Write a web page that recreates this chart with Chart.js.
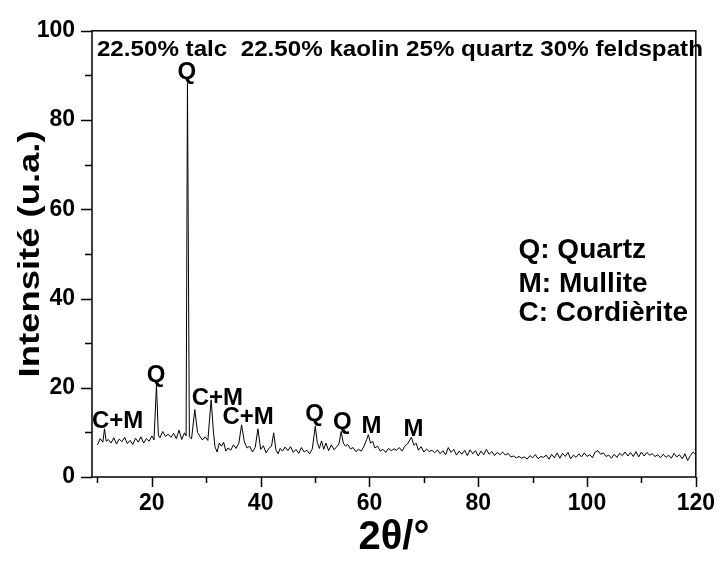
<!DOCTYPE html>
<html>
<head>
<meta charset="utf-8">
<script src="https://cdn.jsdelivr.net/npm/chart.js@4.4.0/dist/chart.umd.min.js"></script>
<style>
  body { margin: 0; background: #fff; }
  #wrap { width: 728px; height: 566px; }
</style>
</head>
<body>
<div id="wrap"><canvas id="chart" width="728" height="566"></canvas></div>
<script>
// Diffractogramme : positions 2θ et intensités
const twoTheta = [
  10.0, 10.5, 11.0, 11.3, 11.6, 12.0, 12.5, 13.0, 13.5, 14.0, 14.5, 15.0, 15.5, 16.0, 16.5,
  17.0, 17.5, 18.0, 18.5, 19.0, 19.5, 20.0, 20.4, 20.85, 21.2, 21.5, 22.0, 22.5, 23.0, 23.5,
  24.0, 24.5, 25.0, 25.5, 26.0, 26.3, 26.55, 26.9, 27.3, 27.9, 28.4, 28.8, 29.3, 29.8, 30.3,
  30.9, 31.3, 31.6, 32.0, 32.4, 32.8, 33.2, 33.6, 34.0, 34.5, 35.0, 35.5, 36.0, 36.5, 37.0,
  37.5, 38.0, 38.5, 39.0, 39.5, 40.0, 40.5, 41.0, 41.5, 42.0, 42.4, 42.8, 43.2, 43.6, 44.0,
  44.5, 45.0, 45.5, 46.0, 46.5, 47.0, 47.5, 48.0, 48.5, 49.0, 49.5, 50.05, 50.4, 50.8, 51.2,
  51.6, 52.0, 52.5, 53.0, 53.5, 54.0, 54.4, 54.8, 55.2, 55.6, 56.0, 56.5, 57.0, 57.5, 58.0,
  58.5, 59.0, 59.5, 59.8, 60.2, 60.6, 61.0, 61.5, 62.0, 62.5, 63.0, 63.5, 64.0, 64.5, 65.0,
  65.5, 66.0, 66.5, 67.0, 67.7, 68.2, 68.6, 69.0, 69.5, 70.0, 70.5, 71.0, 71.5, 72.0, 72.5,
  73.0, 73.5, 74.0, 74.5, 75.0, 75.5, 76.0, 76.5, 77.0, 77.5, 78.0, 78.5, 79.0, 79.5, 80.0,
  80.5, 81.0, 81.5, 82.0, 82.5, 83.0, 83.5, 84.0, 84.5, 85.0, 85.5, 86.0, 86.5, 87.0, 87.5,
  88.0, 88.5, 89.0, 89.5, 90.0, 90.5, 91.0, 91.5, 92.0, 92.5, 93.0, 93.5, 94.0, 94.5, 95.0,
  95.5, 96.0, 96.5, 97.0, 97.5, 98.0, 98.5, 99.0, 99.5, 100.0, 100.5, 101.0, 101.5, 102.0, 102.5,
  103.0, 103.5, 104.0, 104.5, 105.0, 105.5, 106.0, 106.5, 107.0, 107.5, 108.0, 108.5, 109.0, 109.5, 110.0,
  110.5, 111.0, 111.5, 112.0, 112.5, 113.0, 113.5, 114.0, 114.5, 115.0, 115.5, 116.0, 116.5, 117.0, 117.5,
  118.0, 118.5, 119.0, 119.5, 120.0
];
const intensity = [
  7.2, 8.6, 7.8, 10.8, 8.0, 8.4, 7.6, 8.8, 7.4, 8.5, 7.9, 8.9, 7.5, 8.2, 7.3,
  8.7, 7.8, 9.0, 7.6, 8.6, 8.0, 9.2, 8.3, 20.6, 9.4, 8.8, 10.2, 9.1, 9.6, 8.9,
  9.8, 8.6, 10.5, 8.4, 9.9, 9.2, 88.2, 9.0, 8.6, 15.1, 10.0, 9.2, 8.3, 9.0, 8.2,
  17.3, 10.5, 6.8, 5.6, 7.6, 6.9, 7.8, 5.8, 6.5, 6.0, 7.2, 6.4, 7.6, 11.7, 7.9,
  6.5, 6.9, 5.6, 6.6, 10.8, 6.2, 7.0, 5.4, 6.4, 6.9, 9.9, 6.1, 5.2, 6.4, 5.8,
  6.7, 5.9, 6.8, 5.5, 6.2, 5.3, 6.6, 5.6, 6.0, 5.2, 6.3, 11.4, 7.8, 6.4, 8.1,
  6.2, 7.6, 5.9, 7.2, 6.1, 6.8, 7.4, 10.2, 7.6, 6.9, 7.3, 6.3, 6.6, 5.7, 6.2,
  5.8, 6.9, 8.4, 9.5, 7.6, 8.0, 6.5, 6.9, 5.8, 6.2, 5.5, 6.4, 5.9, 6.3, 6.0,
  6.6, 5.8, 6.9, 7.4, 8.9, 7.1, 7.6, 6.0, 6.8, 5.6, 6.3, 5.7, 6.0, 5.4, 6.1,
  5.2, 5.9, 5.0, 6.6, 5.5, 6.2, 4.9, 5.8, 5.1, 6.0, 4.8, 6.1, 5.2, 5.9, 4.7,
  5.8, 5.0, 6.2, 5.1, 5.7, 4.8, 5.5, 5.0, 5.6, 4.9, 5.3, 4.5, 4.7, 4.3, 4.6,
  4.2, 4.5, 4.0, 4.8, 4.3, 5.0, 4.1, 4.6, 4.4, 4.9, 4.0, 5.1, 4.3, 5.4, 4.2,
  5.3, 4.6, 5.5, 4.1, 4.9, 4.4, 5.2, 4.5, 5.4, 4.6, 5.0, 4.3, 5.6, 5.9, 5.1,
  5.4, 4.6, 4.9, 4.2, 5.1, 4.4, 5.3, 4.8, 5.6, 4.7, 5.5, 4.6, 5.7, 4.5, 5.6,
  4.7, 5.5, 4.9, 5.2, 4.6, 5.0, 4.3, 5.1, 4.4, 4.9, 4.2, 5.3, 4.5, 5.0, 4.1,
  5.2, 3.7, 4.8, 5.6, 5.0
];

// Axes
const xMajor = [20, 40, 60, 80, 100, 120];
const xMinor = [10, 30, 50, 70, 90, 110];
const yMajor = [0, 20, 40, 60, 80, 100];
const yMinor = [10, 30, 50, 70, 90];

// Annotations des pics (texte, 2θ, intensité de la ligne de base du texte)
const peakLabels = ['Q', 'Q', 'C+M', 'C+M', 'C+M', 'Q', 'Q', 'M', 'M'];
const peakLabelX = [26.45, 20.8, 13.7, 32.05, 37.7, 49.9, 55.0, 60.4, 68.1];
const peakLabelY = [89.1, 21.3, 11.0, 16.1, 11.9, 12.6, 10.8, 9.9, 9.3];

const legendLines = ['Q: Quartz', 'M: Mullite', 'C: Cordièrite'];
const legendY = [49.1, 41.4, 34.9];
const legendX = 87.4;

const sampleText = '22.50% talc  22.50% kaolin 25% quartz 30% feldspath';
const yTitle = 'Intensité (u.a.)';

const FONT = "'Liberation Sans', Arial, sans-serif";

const points = twoTheta.map((t, i) => ({ x: t, y: intensity[i] }));

// Cadre, graduations et textes
const decorPlugin = {
    id: 'decor',
    afterDraw(chart) {
        const ctx = chart.ctx;
        const area = chart.chartArea;
        const xs = chart.scales.x;
        const ys = chart.scales.y;
        ctx.save();
        ctx.strokeStyle = '#000';
        ctx.lineWidth = 1.5;
        ctx.strokeRect(area.left, area.top, area.right - area.left, area.bottom - area.top);

        ctx.beginPath();
        xMajor.forEach(v => {
            const px = Math.round(xs.getPixelForValue(v)) + 0.5;
            ctx.moveTo(px, area.bottom);
            ctx.lineTo(px, area.bottom + 10);
        });
        xMinor.forEach(v => {
            const px = Math.round(xs.getPixelForValue(v)) + 0.5;
            ctx.moveTo(px, area.bottom);
            ctx.lineTo(px, area.bottom + 6);
        });
        yMajor.forEach(v => {
            const py = Math.round(ys.getPixelForValue(v)) + 0.5;
            ctx.moveTo(area.left, py);
            ctx.lineTo(area.left - 11, py);
        });
        yMinor.forEach(v => {
            const py = Math.round(ys.getPixelForValue(v)) + 0.5;
            ctx.moveTo(area.left, py);
            ctx.lineTo(area.left - 7, py);
        });
        ctx.stroke();

        ctx.fillStyle = '#000';
        ctx.textBaseline = 'alphabetic';

        // texte de composition, un peu élargi comme sur l'original
        ctx.save();
        ctx.font = 'bold 22px ' + FONT;
        ctx.textAlign = 'left';
        ctx.translate(xs.getPixelForValue(9.9), ys.getPixelForValue(94.3));
        ctx.scale(606 / ctx.measureText(sampleText).width, 1);
        ctx.fillText(sampleText, 0, 0);
        ctx.restore();

        ctx.font = 'bold 24px ' + FONT;
        ctx.textAlign = 'center';
        peakLabels.forEach((txt, i) => {
            ctx.fillText(txt, xs.getPixelForValue(peakLabelX[i]), ys.getPixelForValue(peakLabelY[i]));
        });

        ctx.font = 'bold 28px ' + FONT;
        ctx.textAlign = 'left';
        legendLines.forEach((txt, i) => {
            ctx.fillText(txt, xs.getPixelForValue(legendX), ys.getPixelForValue(legendY[i]));
        });

        // titre de l'axe Y
        ctx.save();
        ctx.font = 'bold 29px ' + FONT;
        ctx.textAlign = 'center';
        ctx.textBaseline = 'middle';
        ctx.translate(31, (area.top + area.bottom) / 2);
        ctx.rotate(-Math.PI / 2);
        ctx.scale(247 / ctx.measureText(yTitle).width, 1);
        ctx.fillText(yTitle, 0, 0);
        ctx.restore();
        ctx.restore();
    }
};

new Chart(document.getElementById('chart').getContext('2d'), {
    type: 'line',
    data: {
        datasets: [{
            data: points,
            borderColor: '#000',
            borderWidth: 1,
            pointRadius: 0,
            tension: 0,
            fill: false
        }]
    },
    options: {
        responsive: false,
        animation: false,
        layout: { padding: { left: 0, top: 20, right: 25, bottom: 0 } },
        plugins: { legend: { display: false }, tooltip: { enabled: false } },
        scales: {
            x: {
                type: 'linear',
                min: 9,
                max: 120,
                afterFit: s => { s.height = 89; },
                afterBuildTicks: s => { s.ticks = xMajor.map(v => ({ value: v })); },
                grid: { display: false, drawTicks: false },
                border: { display: false },
                ticks: {
                    padding: 13,
                    color: '#000',
                    maxRotation: 0,
                    font: { family: FONT, size: 23, weight: 'bold' }
                },
                title: {
                    display: true,
                    text: '2θ/°',
                    color: '#000',
                    padding: { top: 0, bottom: 4 },
                    font: { family: FONT, size: 40, weight: 'bold' }
                }
            },
            y: {
                min: 0,
                max: 100,
                afterFit: s => { s.width = 92; },
                afterBuildTicks: s => { s.ticks = yMajor.map(v => ({ value: v })); },
                grid: { display: false, drawTicks: false },
                border: { display: false },
                ticks: {
                    padding: 17,
                    color: '#000',
                    font: { family: FONT, size: 23, weight: 'bold' }
                }
            }
        }
    },
    plugins: [decorPlugin]
});
</script>
</body>
</html>
